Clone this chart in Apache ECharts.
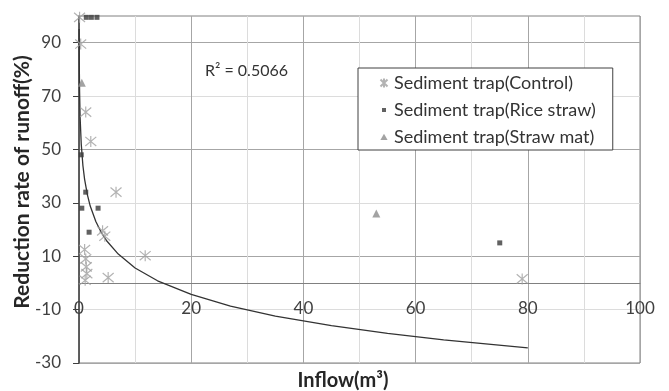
<!DOCTYPE html>
<html>
<head>
<meta charset="utf-8">
<script src="https://cdn.jsdelivr.net/npm/echarts@6/dist/echarts.min.js"></script>
<style>
html,body{margin:0;padding:0;background:#fff;}
#c{width:669px;height:391px;}
</style>
</head>
<body>
<div id="c"></div>
<script>
// ---- data ----
const controlX = [0.1, 0.3, 1.2, 2.1, 6.6, 4.2, 4.6, 11.8, 1.0, 1.2, 1.3, 1.4, 1.1, 5.2, 79];
const controlY = [99.5, 89.5, 64, 53, 34, 19.5, 17.5, 10.2, 12.5, 9, 6, 3.5, 1, 2, 1.5];
const riceX = [1.3, 2.2, 3.2, 0.4, 1.2, 0.5, 3.4, 1.8, 75];
const riceY = [99.5, 99.5, 99.5, 48, 34, 28, 28, 19, 15];
const matX = [0.5, 53];
const matY = [75, 26];
// logarithmic trend line
const trendX = [0.02, 0.03, 0.05, 0.1, 0.2, 0.4, 0.7, 1, 1.5, 2, 3, 4, 5, 7, 10, 14, 20, 27, 35, 45, 55, 65, 80];
const trendY = [95.1, 89.3, 81.9, 72.0, 62.0, 52.0, 43.9, 38.8, 33.0, 28.8, 23.0, 18.8, 15.6, 10.8, 5.6, 0.8, -4.3, -8.7, -12.4, -16.0, -18.9, -21.3, -24.3];
const xLabels = [0, 20, 40, 60, 80, 100];
const yLabels = [-30, -10, 10, 30, 50, 70, 90];
const seriesNames = ['Sediment trap(Control)', 'Sediment trap(Rice straw)', 'Sediment trap(Straw mat)'];
const r2Text = 'R\u00b2 = 0.5066';
const xTitle = 'Inflow(m\u00b3)';
const yTitle = 'Reduction rate of runoff(%)';

const zip = (xs, ys) => xs.map((x, i) => [x, ys[i]]);
const FONT = 'Lato, "Liberation Sans", sans-serif';
const starPath = 'path://M0,0L10,10M10,0L0,10M5,-1L5,11';
// legend icons padded inside a 10x10 box so that the marks stay small
const starIcon = 'path://M0,0M10,10M1.5,1.5L8.5,8.5M8.5,1.5L1.5,8.5M5,0.5L5,9.5';
const rectIcon = 'path://M0,0M10,10M3,3L7,3L7,7L3,7Z';
const triIcon = 'path://M0,0M10,10M5,1.8L8.6,8L1.4,8Z';

const chart = echarts.init(document.getElementById('c'), null, {renderer: 'canvas'});
chart.setOption({
  animation: false,
  backgroundColor: '#fff',
  grid: {left: 79, right: 29, top: 16, bottom: 28, show: true, borderColor: '#808080', borderWidth: 1, containLabel: false},
  xAxis: {
    type: 'value', min: 0, max: 100, interval: 10, position: 'bottom',
    axisLine: {show: true, lineStyle: {color: '#808080', width: 1}},
    axisTick: {show: false},
    axisLabel: {
      margin: -63, color: '#404040', fontFamily: FONT, fontSize: 17,
      formatter: v => xLabels.includes(v) ? String(v) : ''
    },
    splitLine: {show: true, lineStyle: {color: ['#a6a6a6', '#dcdcdc'], width: 1}}
  },
  yAxis: {
    type: 'value', min: -30, max: 100, interval: 10,
    axisLine: {show: true, lineStyle: {color: '#404040', width: 1.5}},
    axisTick: {show: true, length: 6, inside: false, customValues: yLabels, lineStyle: {color: '#404040'}},
    axisLabel: {
      margin: 18, color: '#404040', fontFamily: FONT, fontSize: 17,
      formatter: v => yLabels.includes(v) ? String(v) : ''
    },
    splitLine: {show: true, lineStyle: {color: ['#a6a6a6', '#dcdcdc'], width: 1}}
  },
  legend: {
    data: [
      {name: seriesNames[0], icon: starIcon},
      {name: seriesNames[1], icon: rectIcon},
      {name: seriesNames[2], icon: triIcon}
    ],
    orient: 'vertical', left: 358, top: 68,
    padding: [6, 17, 4, 20], itemGap: 9, itemWidth: 10, itemHeight: 10,
    borderColor: '#404040', borderWidth: 1, backgroundColor: '#fff',
    textStyle: {fontFamily: FONT, fontSize: 18, color: '#333'}
  },
  graphic: [
    {type: 'text', left: 205, top: 63, style: {text: r2Text, font: '16px ' + FONT, fill: '#333'}},
    {type: 'text', x: 22, y: 182, rotation: Math.PI / 2,
     style: {text: yTitle, font: 'bold 21px ' + FONT, fill: '#262626', align: 'center', verticalAlign: 'middle'}},
    {type: 'text', x: 343, y: 381,
     style: {text: xTitle, font: 'bold 20px ' + FONT, fill: '#262626', align: 'center', verticalAlign: 'middle'}}
  ],
  series: [
    {
      name: 'trend', type: 'line', data: zip(trendX, trendY), showSymbol: false, smooth: false,
      lineStyle: {color: '#333', width: 1.3}, silent: true, z: 3
    },
    {
      name: seriesNames[0], type: 'scatter', data: zip(controlX, controlY),
      symbol: starPath, symbolSize: 11,
      itemStyle: {color: 'transparent', borderColor: '#a0a0a0', borderWidth: 1.2}, z: 4
    },
    {
      name: seriesNames[1], type: 'scatter', data: zip(riceX, riceY),
      symbol: 'rect', symbolSize: 5,
      itemStyle: {color: '#3a3a3a'}, z: 5
    },
    {
      name: seriesNames[2], type: 'scatter', data: zip(matX, matY),
      symbol: 'triangle', symbolSize: 8,
      itemStyle: {color: '#8c8c8c'}, z: 5
    }
  ]
});
</script>
</body>
</html>
